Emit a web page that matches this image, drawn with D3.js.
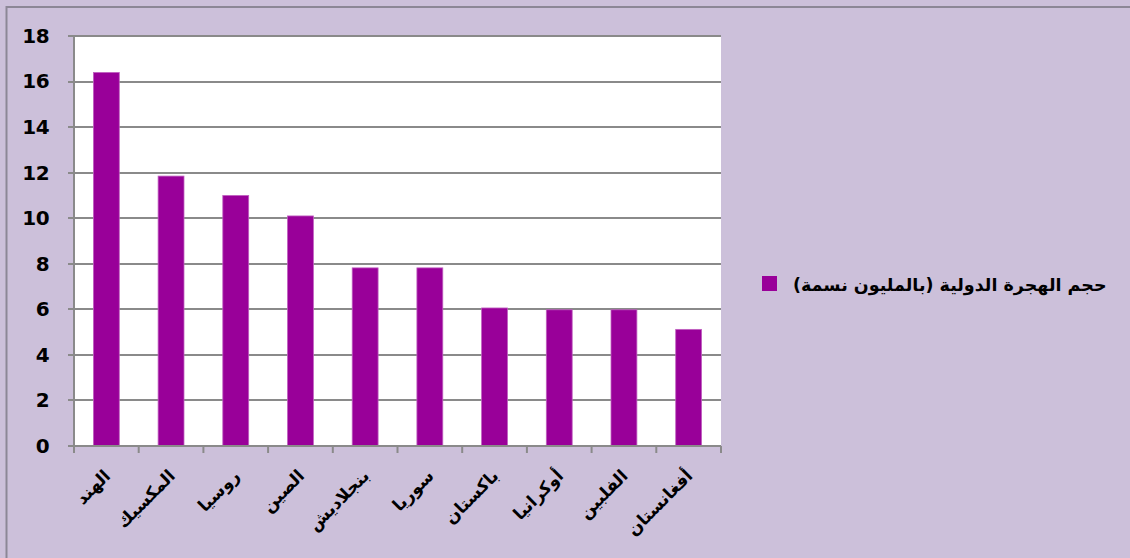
<!DOCTYPE html>
<html>
<head>
<meta charset="utf-8">
<script src="https://cdn.jsdelivr.net/npm/d3@7"></script>
<style>
  html, body { margin: 0; padding: 0; background: #ccc0da; overflow: hidden; }
  svg { display: block; overflow: hidden; }
</style>
</head>
<body>
<script>
// data
var countries = ["الهند", "المكسيك", "روسيا", "الصين", "بنجلاديش", "سوريا", "باكستان", "أوكرانيا", "الفلبين", "أفغانستان"];
var migrants = [16.4, 11.85, 11.0, 10.1, 7.82, 7.82, 6.06, 5.98, 5.98, 5.12];
var yTicks = [0, 2, 4, 6, 8, 10, 12, 14, 16, 18];
var seriesName = "حجم الهجرة الدولية (بالمليون نسمة)";

var WIDTH = 1130;
var HEIGHT = 558;
var plot = {left: 74, right: 721, top: 36, bottom: 446};

const svg = d3.select("body").append("svg")
  .attr("width", WIDTH)
  .attr("height", HEIGHT);

svg.append("rect")
  .attr("width", WIDTH).attr("height", HEIGHT)
  .attr("fill", "#ccc0da");

// chart frame: only top and left edges are inside the picture
svg.append("path")
  .attr("d", `M6.5,${HEIGHT} V7 H${WIDTH}`)
  .attr("fill", "none")
  .attr("stroke", "#8c8796")
  .attr("stroke-width", 2);

// plot area
svg.append("rect")
  .attr("x", plot.left).attr("y", plot.top)
  .attr("width", plot.right - plot.left)
  .attr("height", plot.bottom - plot.top)
  .attr("fill", "#ffffff");

var x = d3.scaleBand()
  .domain(countries)
  .range([plot.left, plot.right])
  .paddingInner(0.6)
  .paddingOuter(0.3);

var y = d3.scaleLinear()
  .domain([0, 18])
  .range([plot.bottom, plot.top]);

// gridlines
svg.append("g")
  .selectAll("line")
  .data(yTicks.filter(d => d > 0))
  .join("line")
    .attr("x1", plot.left - 6)
    .attr("x2", plot.right)
    .attr("y1", d => Math.round(y(d)))
    .attr("y2", d => Math.round(y(d)))
    .attr("stroke", "#8a8a8a")
    .attr("stroke-width", 2);

// bars
svg.append("g")
  .selectAll("rect")
  .data(migrants)
  .join("rect")
    .attr("x", (d, i) => x(countries[i]))
    .attr("y", d => y(d))
    .attr("width", x.bandwidth())
    .attr("height", d => y(0) - y(d))
    .attr("fill", "#990099")
    .attr("stroke", "#c060c0")
    .attr("stroke-width", 0.8);

// y axis
var yAxis = d3.axisLeft(y)
  .tickValues(yTicks)
  .tickSize(0)
  .tickPadding(25);

var gy = svg.append("g")
  .attr("transform", `translate(${plot.left},0)`)
  .call(yAxis);
gy.select(".domain").remove();
gy.selectAll("text")
  .attr("font-family", "'DejaVu Sans', sans-serif")
  .attr("font-weight", "bold")
  .attr("font-size", "20px")
  .attr("letter-spacing", "-0.6px")
  .attr("fill", "#000");

svg.append("line")
  .attr("x1", plot.left).attr("x2", plot.left)
  .attr("y1", plot.top).attr("y2", plot.bottom + 7)
  .attr("stroke", "#8a8a8a").attr("stroke-width", 2);
svg.append("line")
  .attr("x1", plot.left - 6).attr("x2", plot.right)
  .attr("y1", plot.bottom).attr("y2", plot.bottom)
  .attr("stroke", "#8a8a8a").attr("stroke-width", 2);

// x tick marks between categories
var step = (plot.right - plot.left) / countries.length;
svg.append("g")
  .selectAll("line")
  .data(d3.range(countries.length + 1))
  .join("line")
    .attr("x1", i => plot.left + i * step)
    .attr("x2", i => plot.left + i * step)
    .attr("y1", plot.bottom)
    .attr("y2", plot.bottom + 7)
    .attr("stroke", "#8a8a8a")
    .attr("stroke-width", 2);

// category labels, rotated
svg.append("g")
  .selectAll("text")
  .data(countries)
  .join("text")
    .attr("transform", d => `translate(${x(d) + x.bandwidth() / 2 + 5},${plot.bottom + 31}) rotate(-45)`)
    .attr("text-anchor", "end")
    .attr("font-family", "'DejaVu Sans', sans-serif")
    .attr("font-weight", "bold")
    .attr("font-size", "17px")
    .attr("fill", "#000")
    .text(d => d);

// legend
svg.append("rect")
  .attr("x", 762).attr("y", 276)
  .attr("width", 15).attr("height", 15)
  .attr("fill", "#990099");
svg.append("text")
  .attr("x", 793).attr("y", 291)
  .attr("font-family", "'DejaVu Sans', sans-serif")
  .attr("font-weight", "bold")
  .attr("font-size", "17.5px")
  .attr("fill", "#000")
  .text(seriesName);
</script>
</body>
</html>
